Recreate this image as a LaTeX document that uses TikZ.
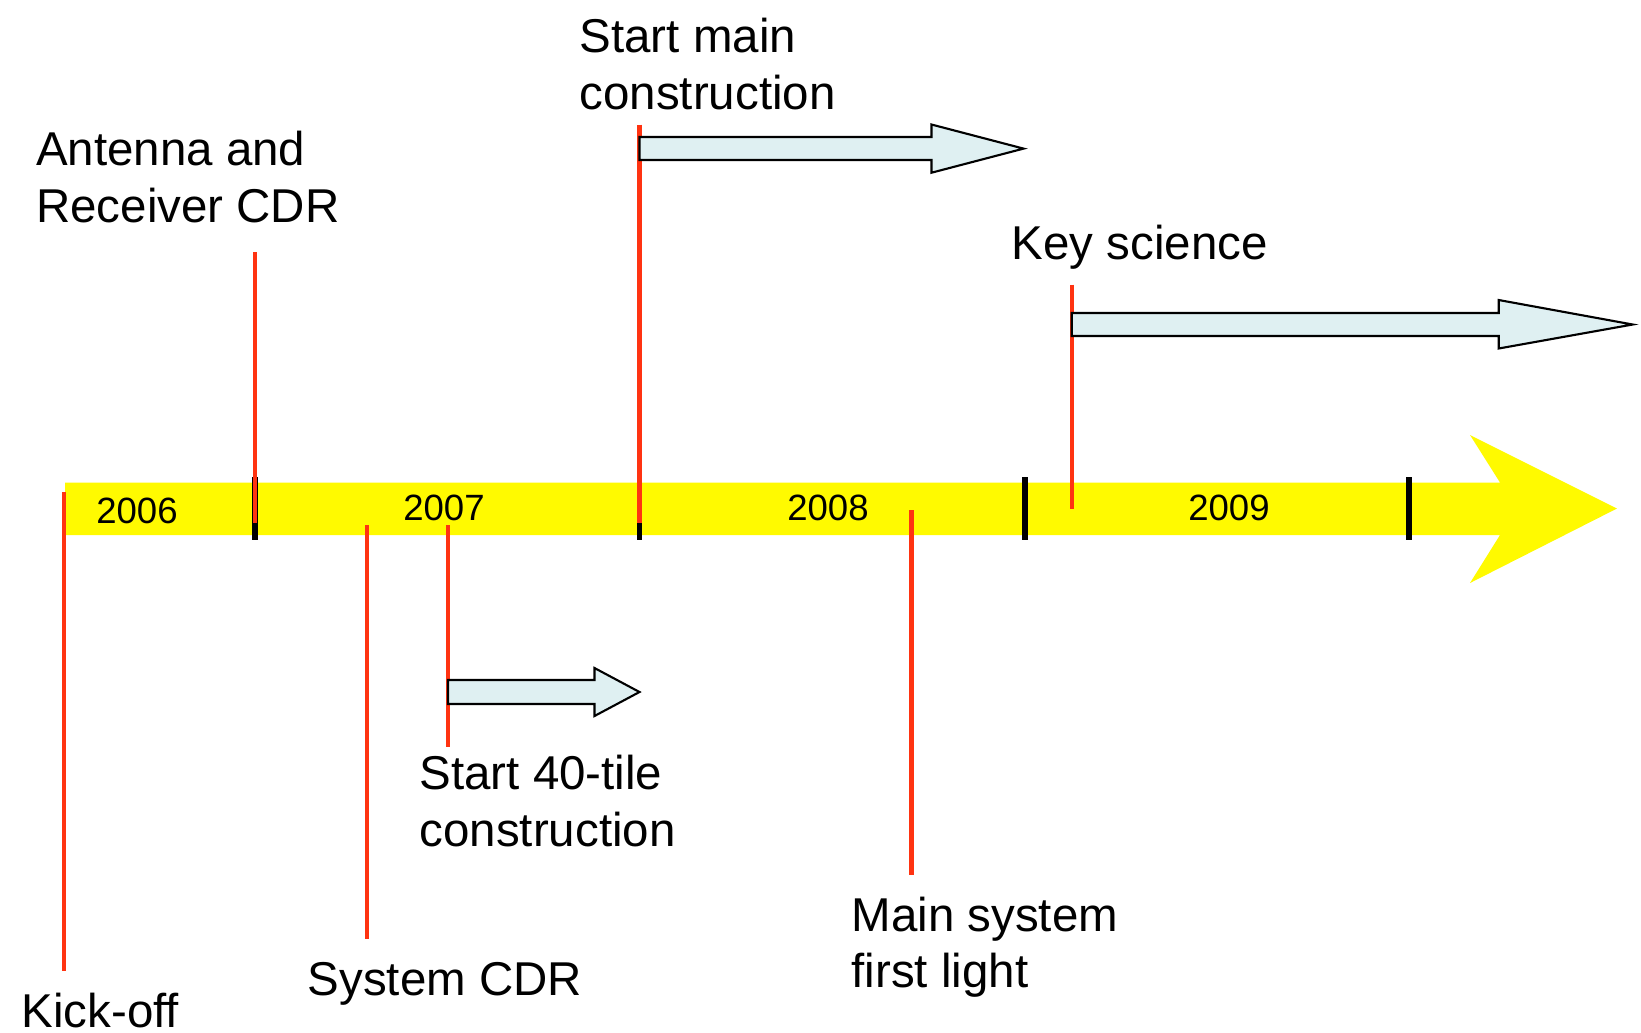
\documentclass[tikz,border=0pt]{standalone}
\usepackage{fontspec}
\setmainfont{Liberation Sans}
\usepackage{xcolor}
\usetikzlibrary{calc}
\definecolor{BarYellow}{RGB}{255,250,0}
\definecolor{MarkRed}{RGB}{255,51,17}
\definecolor{PhaseBlue}{RGB}{223,240,242}

\begin{document}
\begin{tikzpicture}[x=0.01cm,y=-0.01cm,
    milestone/.style={draw=MarkRed, line width=1.2pt},
    yeartick/.style={draw=black, line width=1.7pt},
    phase/.style={draw=black, fill=PhaseBlue, line width=0.6pt},
    eventtext/.style={inner sep=0pt, anchor=west, align=left, font=\fontsize{13.5}{16}\selectfont},
    yeartext/.style={inner sep=0pt, font=\fontsize{10.4}{12}\selectfont}]
    \useasboundingbox (0,0) rectangle (1641,1032);

    % Time bar
    \fill[BarYellow] (65,482.5) -- (1500,482.5) -- (1470,435) -- (1617,508.5)
        -- (1470,583) -- (1500,535) -- (65,535) -- cycle;
    \foreach \x in {255,639.5,1024.6,1408.7}
        \draw[yeartick] (\x,477) -- (\x,540);

    % Years
    \node[yeartext] (y2006) at (137,511) {2006};
    \node[yeartext] (y2007) at (444,507.6) {2007};
    \node[yeartext] (y2008) at (828,507.6) {2008};
    \node[yeartext] (y2009) at (1229,507.6) {2009};

    % Milestone markers
    \coordinate (kickA) at (64,492);       \coordinate (kickB) at (64,971);
    \coordinate (antA) at (255,252);       \coordinate (antB) at (255,523);
    \coordinate (sysA) at (367,525);       \coordinate (sysB) at (367,939);
    \coordinate (tileA) at (448,525);      \coordinate (tileB) at (448,747);
    \coordinate (mainA) at (639.5,124.5);  \coordinate (mainB) at (639.5,523);
    \coordinate (lightA) at (911.6,510);   \coordinate (lightB) at (911.6,875);
    \coordinate (keyA) at (1071.7,284.7);  \coordinate (keyB) at (1071.7,508.6);
    \foreach \m in {kick,ant,sys,tile,main,light,key}
        \draw[milestone] (\m A) -- (\m B);

    % Phase arrows
    \draw[phase] (639.5,137) -- (931.5,137) -- (931.5,124.5) -- (1023.6,148.6)
        -- (931.5,172.7) -- (931.5,160) -- (639.5,160) -- cycle;
    \draw[phase] (1071.7,313) -- (1498.7,313) -- (1498.7,300) -- (1632.7,324.5)
        -- (1498.7,348.5) -- (1498.7,336) -- (1071.7,336) -- cycle;
    \draw[phase] (448,680) -- (594.5,680) -- (594.5,668) -- (639.5,692)
        -- (594.5,716) -- (594.5,704) -- (448,704) -- cycle;

    % Labels
    \node[eventtext] (kick) at (21,1011) {Kick-off};
    \node[eventtext] (ant) at (35.5,177) {Antenna and\\Receiver CDR};
    \node[eventtext] (sys) at (307,984) {System CDR};
    \node[eventtext] (tile) at (419,801) {Start 40-tile\\construction};
    \node[eventtext] (main) at (579,64) {Start main\\construction};
    \node[eventtext] (light) at (851,947) {Main system\\first light};
    \node[eventtext] (key) at (1011,247) {Key science};
\end{tikzpicture}
\end{document}
